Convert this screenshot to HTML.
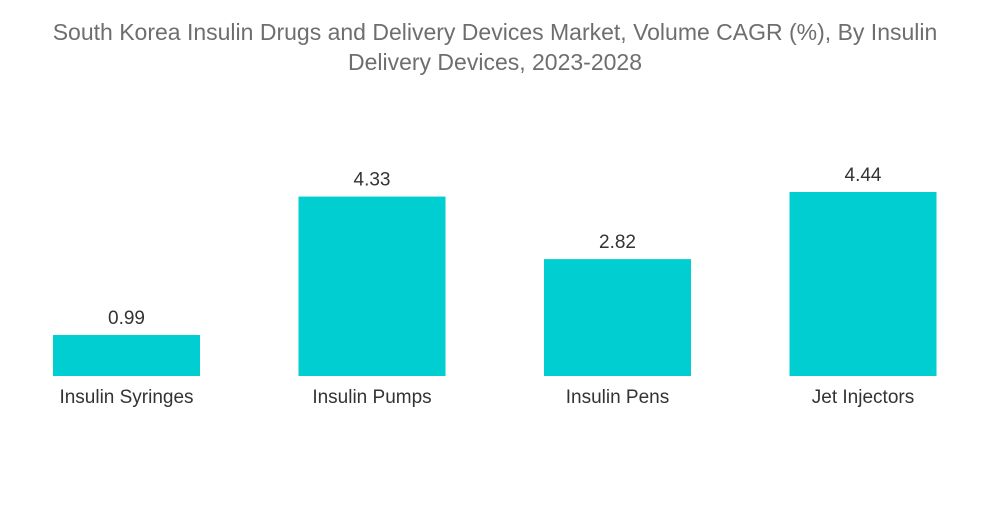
<!DOCTYPE html>
<html><head><meta charset="utf-8"><style>
body{margin:0;background:#fff;width:1000px;height:504px;overflow:hidden;font-family:"Liberation Sans",sans-serif}
</style></head><body>
<svg width="1000" height="504">
<text x="495" y="40" text-anchor="middle" font-size="23" fill="#6e6e6e">South Korea Insulin Drugs and Delivery Devices Market, Volume CAGR (%), By Insulin</text>
<text x="495" y="70" text-anchor="middle" font-size="23" fill="#6e6e6e">Delivery Devices, 2023-2028</text>
<g id="bars"></g>
</svg>
<script>
const categories=["Insulin Syringes","Insulin Pumps","Insulin Pens","Jet Injectors"];
const values=[0.99,4.33,2.82,4.44];
const valueLabels=["0.99","4.33","2.82","4.44"];
const base=376, pxPerUnit=41.44, x0=53, step=245.5, bw=147;
const y=v=>base-v*pxPerUnit;
const g=document.getElementById('bars');
const ns="http://www.w3.org/2000/svg";
categories.forEach((c,i)=>{
  const x=x0+i*step;
  const r=document.createElementNS(ns,'rect');
  r.setAttribute('x',x);r.setAttribute('y',y(values[i]));
  r.setAttribute('width',bw);r.setAttribute('height',base-y(values[i]));
  r.setAttribute('fill','#00CED1');
  
  
  g.appendChild(r);
  const t=document.createElementNS(ns,'text');
  t.setAttribute('x',x+bw/2);t.setAttribute('y',y(values[i])-11);
  t.setAttribute('text-anchor','middle');t.setAttribute('font-size','19');t.setAttribute('fill','#333');
  t.textContent=valueLabels[i];
  
  
  g.appendChild(t);
  const l=document.createElementNS(ns,'text');
  l.setAttribute('x',x+bw/2);l.setAttribute('y',403);
  l.setAttribute('text-anchor','middle');l.setAttribute('font-size','19');l.setAttribute('fill','#333');
  l.textContent=c;
  
  
  g.appendChild(l);
});
</script>
</body></html>
